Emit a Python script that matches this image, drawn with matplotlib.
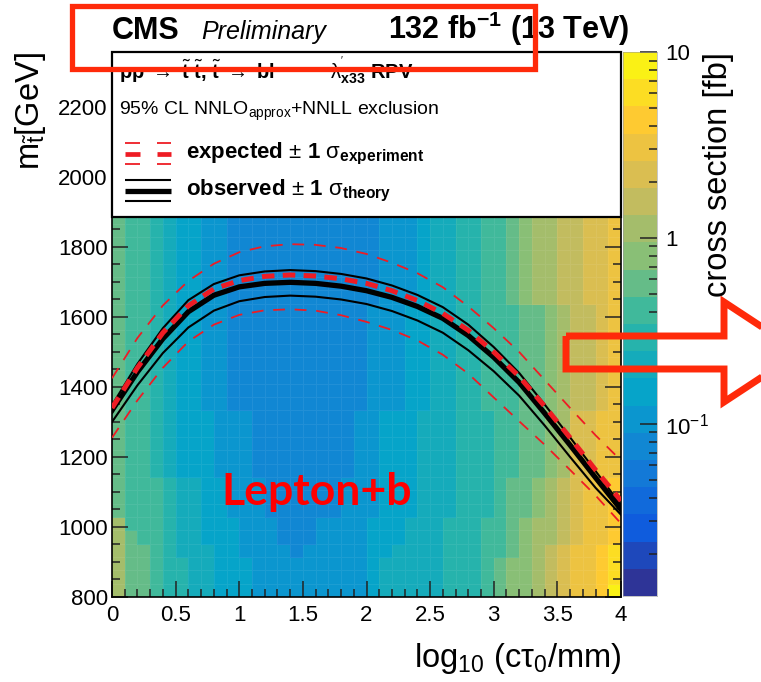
import numpy as np
import matplotlib
matplotlib.use('Agg')
import matplotlib.pyplot as plt
from matplotlib.colors import ListedColormap, BoundaryNorm, LinearSegmentedColormap
from matplotlib.patches import Rectangle, Polygon
import matplotlib.ticker as mticker

plt.rcParams['font.family'] = ['Liberation Sans', 'DejaVu Sans']
plt.rcParams['mathtext.fontset'] = 'custom'
plt.rcParams['mathtext.rm'] = 'Liberation Sans'
plt.rcParams['mathtext.it'] = 'Liberation Sans:italic'
plt.rcParams['mathtext.bf'] = 'Liberation Sans:bold'
plt.rcParams['mathtext.sf'] = 'Liberation Sans'
plt.rcParams['lines.scale_dashes'] = False

# ---------------- data ----------------
ctau_edges = np.linspace(0.0, 4.0, 41)          # log10(ctau/mm) bins
mass_edges = np.linspace(800.0, 1905.0, 30)     # stop mass bins [GeV]
level_bounds = np.logspace(-1.925, 1.0, 21)     # colour contour levels [fb]
level_xsec = [0.0141, 0.0197, 0.0276, 0.0386, 0.0541, 0.0757, 0.106, 0.149,
              0.208, 0.292, 0.408, 0.572, 0.801, 1.12, 1.57, 2.20, 3.08,
              4.32, 6.05, 8.47]

# contour level of the cross section in each bin (rows: mass from 800 GeV up)
xsec_level = [
    [13,11,11,10,9,9,8,8,7,7,7,6,6,6,6, 6,6,6,6,6, 7,8,8,8,8,8,9,9,9,10,11,12,12,13,14,15,16,16,17,19],
    [13,11,11,10,9,9,8,8,7,7,7,6,6,6,6, 6,6,6,6,6, 7,8,8,8,8,8,9,9,9,10,11,12,12,13,14,15,16,16,17,18],
    [13,11,11,10,9,9,8,8,7,7,7,6,6,6,6, 6,6,6,6,6, 7,8,8,8,8,8,9,9,9,10,11,12,12,13,14,15,16,16,17,18],
    [13,11,11,10,9,8,8,8,7,7,6,6,6,6,5, 6,6,6,6,6, 7,7,8,8,8,8,9,9,9,10,10,11,12,13,14,15,16,16,17,18],
    [13,11,10,10,9,8,8,7,7,7,6,6,6,5,5, 5,6,6,6,6, 7,7,7,8,8,8,9,9,9,10,10,11,12,13,13,14,15,16,16,17],
    [13,10,10,10,9,8,8,7,7,7,6,6,6,5,5, 5,6,6,6,6, 7,7,7,8,8,8,9,9,9,10,10,11,12,13,13,14,15,16,16,17],
    [11,10,10,10,9,8,8,7,7,6,6,6,5,5,5, 5,5,5,6,6, 6,7,7,7,8,8,8,9,9,9,10,11,11,12,13,14,15,16,16,17],
    [11,10,10,10,9,8,8,7,7,6,6,6,5,5,5, 5,5,5,6,6, 6,7,7,7,8,8,8,9,9,9,10,11,11,12,13,14,15,16,16,17],
    [11,10,10,10,9,8,8,7,7,6,6,6,5,5,5, 5,5,5,6,6, 6,7,7,7,8,8,8,9,9,9,10,11,11,12,13,14,15,16,16,17],
    [11,10,10,9,8,7,7,7,6,6,6,5,5,5,5, 5,5,5,5,6, 6,7,7,7,8,8,8,9,9,9,10,10,11,11,12,13,15,15,16,16],
    [11,10,10,9,8,7,7,7,6,6,6,5,5,5,5, 5,5,5,5,6, 6,7,7,7,8,8,8,9,9,9,10,10,11,11,12,13,15,15,16,16],
    [11,10,10,9,8,7,7,7,6,6,6,5,5,5,5, 5,5,5,5,6, 6,7,7,7,8,8,8,9,9,9,10,10,11,11,12,13,15,15,16,16],
    [11,10,10,9,8,7,7,7,6,6,6,5,5,5,5, 5,5,5,5,6, 6,7,7,7,8,8,8,9,9,9,10,10,11,11,12,13,15,15,16,16],
    [11,10,10,9,8,7,7,7,6,6,6,5,5,5,5, 5,5,5,5,6, 6,7,7,7,8,8,8,9,9,9,10,10,11,11,12,13,15,15,16,16],
    [11,10,10,9,8,7,7,6,6,5,5,5,5,5,5, 5,5,5,5,5, 6,6,6,7,7,8,8,9,9,10,10,10,11,11,12,13,14,14,15,16],
    [11,10,10,9,8,7,7,6,6,5,5,5,5,5,5, 5,5,5,5,5, 6,6,6,7,7,8,8,9,9,10,10,10,11,11,12,13,14,14,15,16],
    [11,10,10,9,8,7,7,6,6,5,5,5,5,5,5, 5,5,5,5,5, 6,6,6,7,7,8,8,9,9,10,10,10,11,11,12,13,14,14,15,16],
    [11,10,10,9,8,7,7,6,6,5,5,5,5,5,5, 5,5,5,5,5, 6,6,6,7,7,8,8,9,9,10,10,10,11,11,12,13,14,14,15,16],
    [11,10,10,9,8,7,7,6,6,5,5,5,5,5,5, 5,5,5,5,5, 6,6,6,7,7,8,8,9,9,10,10,10,11,11,12,13,14,14,15,16],
    [11,10,10,9,8,7,7,6,6,5,5,5,5,5,5, 5,5,5,5,5, 6,6,6,7,7,8,8,9,9,10,10,10,11,11,12,13,14,14,15,16],
    [11,10,10,9,8,7,7,6,6,5,5,5,5,5,5, 5,5,5,5,5, 6,6,6,7,7,8,8,9,9,10,10,10,11,11,12,13,14,14,15,16],
    [11,10,10,9,8,7,7,6,6,5,5,5,5,5,5, 5,5,5,5,5, 6,6,6,7,7,8,8,9,9,10,10,10,11,11,12,13,14,14,15,16],
    [11,10,10,9,8,7,7,6,6,5,5,5,5,5,5, 5,5,5,5,5, 5,6,6,6,7,8,8,9,9,10,10,11,12,13,13,14,14,15,15,16],
    [11,10,10,9,8,7,7,6,6,5,5,5,5,5,5, 5,5,5,5,5, 5,6,6,6,7,8,8,9,9,10,10,11,12,13,13,14,14,15,15,16],
    [11,10,10,9,8,7,7,6,6,5,5,5,5,5,5, 5,5,5,5,5, 5,6,6,6,7,8,8,9,9,10,10,11,12,13,13,14,14,15,15,16],
    [11,10,10,9,8,7,7,6,6,5,5,5,5,5,5, 5,5,5,5,5, 5,6,6,6,7,8,8,9,9,10,10,11,12,13,13,14,14,15,15,16],
    [11,10,10,9,8,7,7,6,6,5,5,5,5,5,5, 5,5,5,5,5, 5,6,6,6,7,8,8,9,9,10,10,11,12,13,13,14,14,15,15,16],
    [11,10,10,9,8,7,7,6,6,5,5,5,5,5,5, 5,5,5,5,5, 5,6,6,6,7,8,8,9,9,10,10,11,12,13,13,14,14,15,15,16],
    [11,10,10,9,8,7,7,6,6,5,5,5,5,5,5, 5,5,5,5,5, 5,6,6,6,7,8,8,9,9,10,10,11,12,13,13,14,14,15,15,16],
]

# exclusion contours (mass in GeV vs log10(ctau/mm))
ctau_pts = [0.0, 0.2, 0.4, 0.6, 0.8, 1.0, 1.2, 1.4, 1.6, 1.8, 2.0,
            2.2, 2.4, 2.6, 2.8, 3.0, 3.2, 3.4, 3.6, 3.8, 4.0]
observed = [1333, 1443, 1538, 1615, 1662, 1686, 1696, 1699, 1696, 1688, 1675,
            1656, 1630, 1596, 1547, 1485, 1413, 1325, 1234, 1141, 1050]
observed_up = [1348, 1466, 1568, 1648, 1694, 1719, 1730, 1734, 1731, 1723, 1710,
               1690, 1663, 1628, 1578, 1514, 1440, 1350, 1256, 1160, 1063]
observed_down = [1300, 1405, 1497, 1570, 1618, 1645, 1657, 1661, 1658, 1650, 1637,
                 1617, 1590, 1555, 1505, 1445, 1375, 1290, 1200, 1112, 1035]
expected = [1340, 1455, 1555, 1632, 1680, 1704, 1716, 1720, 1717, 1709, 1696,
            1675, 1647, 1610, 1562, 1500, 1430, 1345, 1255, 1163, 1075]
expected_up = [1425, 1540, 1633, 1703, 1752, 1785, 1802, 1808, 1806, 1797, 1780,
               1755, 1725, 1685, 1630, 1568, 1500, 1420, 1340, 1262, 1190]
expected_down = [1255, 1362, 1455, 1530, 1578, 1606, 1619, 1622, 1618, 1605, 1586,
                 1563, 1533, 1492, 1438, 1370, 1302, 1235, 1163, 1090, 1010]

# ---------------- style ----------------
W, H = 761, 682
fig = plt.figure(figsize=(W / 100, H / 100), dpi=100)
fig.patch.set_facecolor('white')

def fx(px):
    return px / W

def fy(py):
    return 1 - py / H

bird = LinearSegmentedColormap.from_list('bird', [
    (0.2082, 0.1664, 0.5293), (0.0592, 0.3599, 0.8684), (0.0780, 0.5041, 0.8385),
    (0.0232, 0.6419, 0.7914), (0.1802, 0.7178, 0.6425), (0.5301, 0.7492, 0.4662),
    (0.8186, 0.7328, 0.3499), (0.9956, 0.7862, 0.1968), (0.9764, 0.9832, 0.0539)])
band_cmap = ListedColormap([bird((i + 0.5) / 20) for i in range(20)])
norm = BoundaryNorm(level_bounds, 20)

ax_l, ax_r, ax_t, ax_b = 112, 621, 52, 597
ax = fig.add_axes([fx(ax_l), fy(ax_b), fx(ax_r) - fx(ax_l), fy(ax_t) - fy(ax_b)])

xsec = np.array(level_xsec)[np.array(xsec_level)]
ax.pcolormesh(ctau_edges, mass_edges, xsec, cmap=band_cmap, norm=norm,
              edgecolors=(1, 1, 1, 0.07), linewidth=0.4, zorder=1)

red = '#ee1c24'
ax.plot(ctau_pts, observed_up, color='black', lw=1.5, zorder=3)
ax.plot(ctau_pts, observed_down, color='black', lw=1.5, zorder=3)
ax.plot(ctau_pts, observed, color='black', lw=3.8, zorder=3)
ax.plot(ctau_pts, expected_up, color=red, lw=1.3, dashes=(8.5, 7), zorder=4)
ax.plot(ctau_pts, expected_down, color=red, lw=1.3, dashes=(8.5, 7), zorder=4)
ax.plot(ctau_pts, expected, color=red, lw=3.6, dashes=(9, 6), zorder=4)

ax.set_xlim(0, 4)
ax.set_ylim(800, 2357)
ax.xaxis.set_major_locator(mticker.FixedLocator([0, 0.5, 1, 1.5, 2, 2.5, 3, 3.5, 4]))
ax.xaxis.set_major_formatter(mticker.FixedFormatter(['0', '0.5', '1', '1.5', '2', '2.5', '3', '3.5', '4']))
ax.xaxis.set_minor_locator(mticker.MultipleLocator(0.1))
ax.yaxis.set_major_locator(mticker.MultipleLocator(200))
ax.yaxis.set_minor_locator(mticker.MultipleLocator(50))
ax.tick_params(which='both', direction='in', top=True, right=True, color='#222222', width=1.1,
               labelsize=16)
ax.tick_params(which='major', length=11.5)
ax.tick_params(which='minor', length=5.5)
ax.tick_params(axis='x', pad=6)
ax.tick_params(axis='y', pad=3)
for s in ax.spines.values():
    s.set_linewidth(1.2)

# colour bar
cb_l, cb_r, cb_t, cb_b = 623, 657, 52, 596
cax = fig.add_axes([fx(cb_l), fy(cb_b), fx(cb_r) - fx(cb_l), fy(cb_t) - fy(cb_b)])
cax.set_yscale('log')
cax.pcolormesh([0, 1], level_bounds, np.array(level_xsec).reshape(-1, 1), cmap=band_cmap, norm=norm)
cax.set_xlim(0, 1)
cax.set_ylim(level_bounds[0], 10)
cax.set_xticks([])
cax.yaxis.set_ticks_position('right')
cax.yaxis.set_major_locator(mticker.FixedLocator([0.1, 1, 10]))
cax.yaxis.set_major_formatter(mticker.FixedFormatter([r'$10^{-1}$', '1', '10']))
cax.yaxis.set_minor_locator(mticker.LogLocator(base=10, subs=np.arange(2, 10), numticks=20))
cax.yaxis.set_minor_formatter(mticker.NullFormatter())
cax.tick_params(which='both', direction='in', color='#222222', width=1.1, labelsize=16, pad=6)
cax.tick_params(which='major', length=12)
cax.tick_params(which='minor', length=6)
for s in cax.spines.values():
    s.set_linewidth(0.4)
    s.set_color('#999999')

# overlay in pixel coordinates for legend / annotations
ov = fig.add_axes([0, 0, 1, 1], zorder=10)
ov.set_xlim(0, W)
ov.set_ylim(H, 0)
ov.axis('off')
ov.patch.set_visible(False)

ov.add_patch(Rectangle((ax_l, ax_t), ax_r - ax_l, 165, facecolor='white', edgecolor='black', lw=1.6, zorder=1))
ov.text(119, 78, r'pp $\rightarrow$ $\tilde{\mathbf{t}}$ $\tilde{\mathbf{t}}$, $\tilde{\mathbf{t}}$ $\rightarrow$ bl          '
        r"$\mathrm{\lambda}^{'}_{\mathbf{x33}}$ RPV", fontsize=14.5, fontweight='bold', va='baseline', ha='left', zorder=2)
ov.text(119, 111, r'95% CL NNLO$_{\mathrm{approx}}$+NNLL exclusion', fontsize=14, va='center', ha='left', zorder=2)
for yy, lw in [(143, 1.3), (154, 3.4), (164, 1.3)]:
    ov.plot([125, 140], [yy, yy], color=red, lw=lw, solid_capstyle='butt', zorder=2)
    ov.plot([157, 171], [yy, yy], color=red, lw=lw, solid_capstyle='butt', zorder=2)
for yy, lw in [(180, 1.5), (191, 3.8), (201, 1.5)]:
    ov.plot([125, 171], [yy, yy], color='black', lw=lw, solid_capstyle='butt', zorder=2)
ov.text(186, 154, r'expected $\pm$ $\mathbf{1}$ $\mathrm{\sigma}_{\mathbf{experiment}}$', fontsize=16,
        fontweight='bold', va='center', ha='left', zorder=2)
ov.text(186, 191, r'observed $\pm$ $\mathbf{1}$ $\mathrm{\sigma}_{\mathbf{theory}}$', fontsize=16,
        fontweight='bold', va='center', ha='left', zorder=2)

# header
ov.text(112, 39, 'CMS', fontsize=22, fontweight='bold', va='baseline', ha='left')
ov.text(201, 39, 'Preliminary', fontsize=18, fontstyle='italic', va='baseline', ha='left')
ov.text(629, 39, r'132 fb$^{\mathbf{-1}}$ (13 TeV)', fontsize=22, fontweight='bold', va='baseline', ha='right')

# axis titles
ov.text(30, 52, r'm$_{\tilde{\mathrm{t}}}$[GeV]', fontsize=23.5, rotation=90, ha='center', va='top')
ov.text(621, 658, r'log$_{10}$ (c$\mathrm{\tau}_{0}$/mm)', fontsize=23.5, ha='right', va='center')
ov.text(718, 52, 'cross section [fb]', fontsize=23.5, rotation=90, ha='center', va='top')

# annotation
ov.text(317, 492, 'Lepton+b', fontsize=32, fontweight='bold', color='#ff0000', family='Lato',
        ha='center', va='center', zorder=3)
anno = '#ff2a0a'
ov.add_patch(Rectangle((72, 6), 463, 63, facecolor='none', edgecolor=anno, lw=3.8, zorder=4))
ov.add_patch(Polygon([(566, 336), (724, 336), (724, 302), (800, 352), (724, 402), (724, 369), (566, 369)],
                     closed=True, facecolor='none', edgecolor=anno, lw=5, joinstyle='miter', zorder=4))

fig.savefig('out.png', dpi=100)
